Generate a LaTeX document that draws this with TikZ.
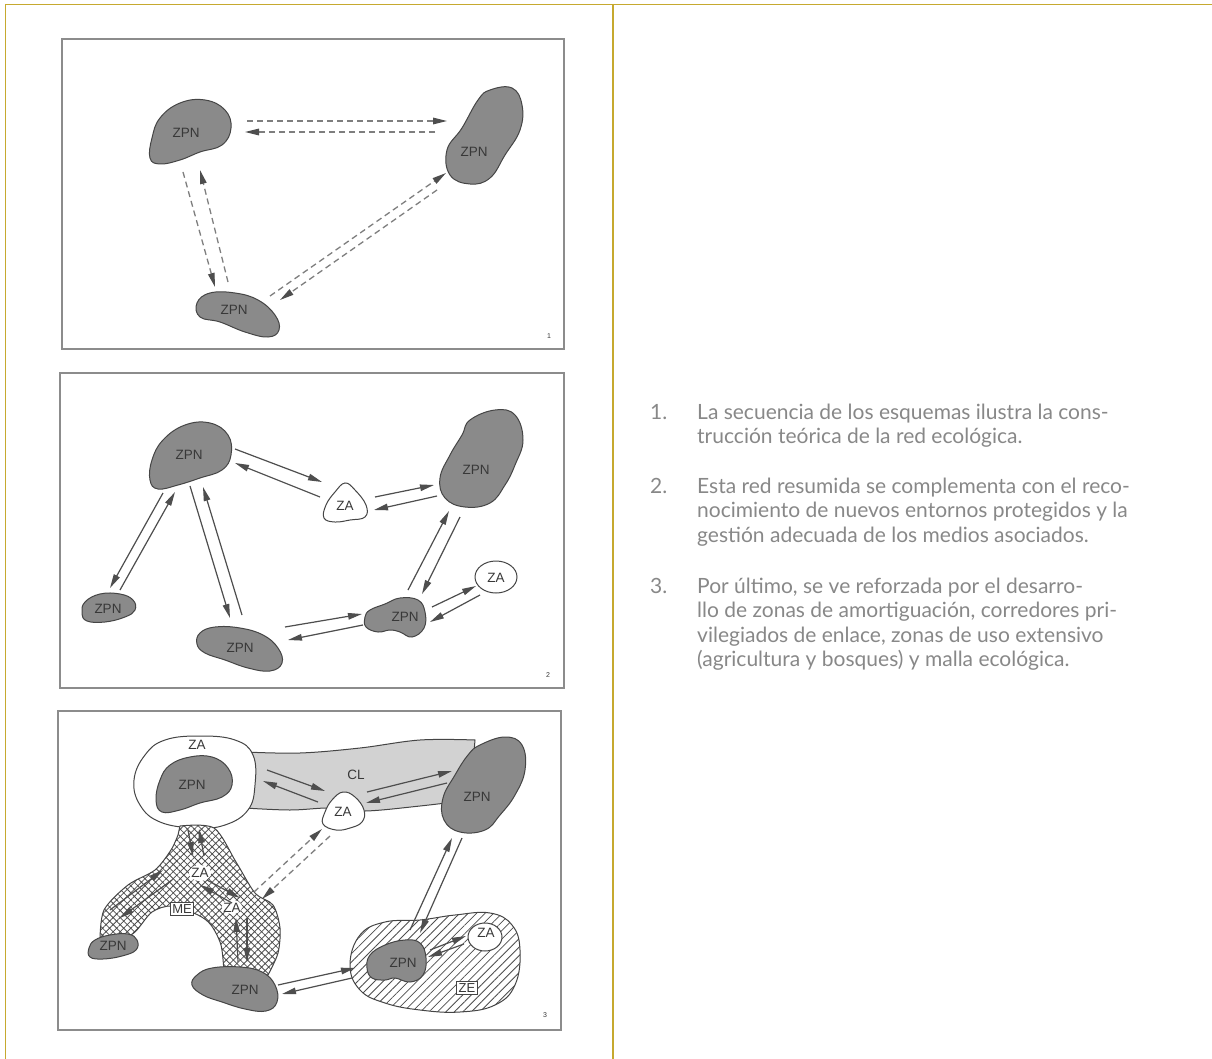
\documentclass[tikz,border=0pt]{standalone}
\usepackage{fontspec}
\setmainfont{Lato}
\newfontfamily\labelsans{Liberation Sans}
\usetikzlibrary{arrows.meta,patterns.meta}
\definecolor{gold}{HTML}{C6A92F}
\definecolor{blobfill}{HTML}{8A8A8A}
\definecolor{blobedge}{HTML}{454545}
\definecolor{inkgray}{HTML}{383838}
\definecolor{linegray}{HTML}{4E4E4E}
\definecolor{dashgray}{HTML}{7E7E7E}
\definecolor{framegray}{HTML}{8C8C8C}
\definecolor{corridor}{HTML}{D2D2D2}
\definecolor{captext}{HTML}{888888}
\tikzset{
  blob/.style={fill=blobfill, draw=blobedge, line width=1pt},
  whiteblob/.style={fill=white, draw=blobedge, line width=1pt},
  zlabel/.style={font=\labelsans\fontsize{13.5}{13.5}\selectfont, text=inkgray, inner sep=0pt},
  boxlabel/.style={font=\labelsans\fontsize{13}{13}\selectfont, text=inkgray, draw=blobedge, fill=white, line width=0.9pt, inner sep=2pt},
  panelframe/.style={draw=framegray, line width=2pt},
  panelno/.style={font=\labelsans\fontsize{7}{7}\selectfont, text=inkgray, inner sep=0pt},
  arr/.style={draw=linegray, line width=1.2pt, -{Triangle[length=14pt,width=6.5pt]}},
  darr/.style={draw=dashgray, line width=1.3pt, dash pattern=on 6pt off 4pt,
    -{Triangle[length=14pt,width=6.5pt,color=linegray]}},
  capline/.style={font=\fontsize{21}{21}\selectfont, text=captext, anchor=base west, inner sep=0pt},
}
\begin{document}
\begin{tikzpicture}[x=1pt,y=-1pt]
\useasboundingbox (0,0) rectangle (1212,1059);
\fill[white] (0,0) rectangle (1212,1059);

% page rules
\draw[gold, line width=1.8pt] (5,4.5) -- (1212,4.5);
\draw[gold, line width=1.2pt] (5.5,4) -- (5.5,1059);
\draw[gold, line width=1.2pt] (613,4) -- (613,1059);

% ---------------- scheme 1 ----------------
\draw[panelframe] (62,39) rectangle (564,349);
\draw[blob] plot[smooth cycle, tension=0.7] coordinates {(160,118) (180,103) (205,100) (225,110) (231,128) (222,145) (200,152) (180,160) (160,164) (150,158) (152,138)};
\draw[blob] plot[smooth cycle, tension=0.7] coordinates {(490,90) (512,88) (522,105) (520,130) (505,155) (490,178) (470,184) (450,175) (447,150) (462,128) (478,100)};
\draw[blob] plot[smooth cycle, tension=0.7] coordinates {(197,303) (210,293) (235,293) (258,300) (275,315) (279,330) (268,337) (245,332) (220,322) (200,317)};
\node[zlabel] (s1a) at (186,133) {ZPN};
\node[zlabel] (s1b) at (474,152) {ZPN};
\node[zlabel] (s1c) at (234,310) {ZPN};
\coordinate (h1s) at (247,121); \coordinate (h1e) at (447,121);
\coordinate (h2s) at (435,132); \coordinate (h2e) at (245,132);
\coordinate (v1s) at (183,172); \coordinate (v1e) at (215,287);
\coordinate (v2s) at (228,282); \coordinate (v2e) at (200,170);
\coordinate (d1s) at (270,296); \coordinate (d1e) at (446,173);
\coordinate (d2s) at (437,190); \coordinate (d2e) at (280,300);
\foreach \a in {h1,h2,v1,v2,d1,d2} \draw[darr] (\a s) -- (\a e);
\node[panelno] (n1) at (549,336) {1};

% ---------------- scheme 2 ----------------
\draw[panelframe] (60,373) rectangle (564,688);
\draw[blob] plot[smooth cycle, tension=0.7] coordinates {(163,440) (185,425) (210,423) (228,435) (231,455) (222,470) (200,478) (178,485) (158,489) (150,480) (152,460)};
\draw[blob] plot[smooth cycle, tension=0.7] coordinates {(470,420) (495,410) (515,415) (523,440) (515,465) (505,485) (490,503) (465,507) (445,498) (440,478) (450,455) (462,435)};
\draw[whiteblob] plot[smooth cycle, tension=0.7] coordinates {(335,492) (345,483) (355,490) (366,505) (365,517) (350,520) (335,522) (324,518) (326,505)};
\draw[blob] plot[smooth cycle, tension=0.7] coordinates {(85,602) (100,594) (120,594) (133,600) (135,610) (125,617) (105,622) (87,621) (82,613)};
\draw[blob] plot[smooth cycle, tension=0.7] coordinates {(200,633) (215,627) (240,628) (263,635) (278,648) (282,663) (270,671) (248,668) (225,660) (205,653) (197,644)};
\draw[blob] plot[smooth cycle, tension=0.7] coordinates {(370,610) (385,604) (400,598) (418,600) (425,612) (424,628) (412,637) (400,632) (390,630) (378,632) (366,627) (365,617)};
\draw[whiteblob] (496,577) ellipse[x radius=21, y radius=16];
\node[zlabel] (s2a) at (189,455) {ZPN};
\node[zlabel] (s2b) at (476,470) {ZPN};
\node[zlabel] (s2z) at (345,506) {ZA};
\node[zlabel] (s2c) at (108,609) {ZPN};
\node[zlabel] (s2d) at (240,648) {ZPN};
\node[zlabel] (s2e) at (405,617) {ZPN};
\node[zlabel] (s2y) at (496,578) {ZA};
\coordinate (a1s) at (235,449); \coordinate (a1e) at (322,482);
\coordinate (a2s) at (320,497); \coordinate (a2e) at (235,463);
\coordinate (b1s) at (375,497); \coordinate (b1e) at (434,485);
\coordinate (b2s) at (437,496); \coordinate (b2e) at (374,510);
\coordinate (c1s) at (163,493); \coordinate (c1e) at (110,588);
\coordinate (c2s) at (120,590); \coordinate (c2e) at (175,492);
\coordinate (e1s) at (190,486); \coordinate (e1e) at (230,618);
\coordinate (e2s) at (242,615); \coordinate (e2e) at (203,487);
\coordinate (f1s) at (408,590); \coordinate (f1e) at (449,511);
\coordinate (f2s) at (460,517); \coordinate (f2e) at (422,594);
\coordinate (g1s) at (285,627); \coordinate (g1e) at (362,614);
\coordinate (g2s) at (363,625); \coordinate (g2e) at (288,640);
\coordinate (k1s) at (432,607); \coordinate (k1e) at (476,586);
\coordinate (k2s) at (480,595); \coordinate (k2e) at (430,622);
\foreach \a in {a1,a2,b1,b2,c1,c2,e1,e2,f1,f2,g1,g2,k1,k2} \draw[arr] (\a s) -- (\a e);
\node[panelno] (n2) at (548,675) {2};

% ---------------- scheme 3 ----------------
\draw[panelframe] (58,711) rectangle (561,1030);
% linking corridor
\draw[fill=corridor, draw=blobedge, line width=1pt] plot[smooth, tension=0.6] coordinates {(245,752) (300,753) (360,748) (420,740) (475,740)} -- plot[smooth, tension=0.6] coordinates {(470,800) (420,806) (365,811) (330,808) (290,810) (245,808)} -- cycle;
% buffer zone round the core
\draw[whiteblob] plot[smooth cycle, tension=0.7] coordinates {(145,755) (165,740) (200,736) (235,740) (253,755) (255,785) (248,810) (225,825) (195,828) (160,822) (140,805) (134,780)};
% ecological mesh
\draw[draw=blobedge, line width=1pt, preaction={fill=white}, pattern={Hatch[angle=45,distance=5pt,line width=0.8pt]}, pattern color=linegray]
  plot[smooth, tension=0.5] coordinates {(180,826) (214,828) (236,862) (255,893) (273,905) (280,928) (278,953) (268,975)}
  -- plot[smooth, tension=0.5] coordinates {(224,972) (221,945) (211,925) (198,915) (172,906) (152,912) (135,932) (118,942)}
  -- plot[smooth, tension=0.5] coordinates {(100,940) (104,910) (128,885) (155,870) (171,850) (178,835)} -- cycle;
% extensive use zone
\draw[draw=blobedge, line width=1pt, preaction={fill=white}, pattern={Lines[angle=45,distance=6pt,line width=0.8pt]}, pattern color=linegray]
  plot[smooth cycle, tension=0.7] coordinates {(360,935) (385,922) (420,920) (455,915) (490,913) (512,925) (520,950) (515,985) (495,1005) (460,1012) (420,1010) (385,1003) (360,990) (350,965)};
\draw[blob] plot[smooth cycle, tension=0.7] coordinates {(170,765) (190,757) (212,757) (228,768) (232,785) (222,797) (200,803) (180,810) (162,812) (156,800) (160,780)};
\draw[blob] plot[smooth cycle, tension=0.7] coordinates {(480,745) (505,737) (522,745) (525,770) (515,795) (500,815) (485,830) (460,832) (444,820) (443,798) (455,775) (468,755)};
\draw[whiteblob] plot[smooth cycle, tension=0.7] coordinates {(332,800) (343,792) (355,797) (364,810) (362,822) (350,828) (336,830) (323,824) (325,812)};
\draw[blob] plot[smooth cycle, tension=0.7] coordinates {(95,940) (110,935) (128,934) (137,940) (136,950) (122,956) (103,959) (90,957) (89,948)};
\draw[blob] plot[smooth cycle, tension=0.7] coordinates {(197,975) (212,968) (240,967) (262,972) (275,985) (277,1002) (266,1011) (245,1009) (222,1002) (203,995) (192,985)};
\draw[blob] plot[smooth cycle, tension=0.7] coordinates {(370,955) (385,945) (405,940) (420,943) (426,958) (423,975) (410,982) (395,978) (385,980) (372,978) (367,968)};
\draw[whiteblob] (485,937) ellipse[x radius=17, y radius=14];
\fill[white] (200,873) ellipse[x radius=11, y radius=8];
\fill[white] (232,907) ellipse[x radius=10, y radius=7];
\node[zlabel] (s3za) at (197,745) {ZA};
\node[zlabel] (s3a) at (192,785) {ZPN};
\node[zlabel] (s3cl) at (356,775) {CL};
\node[zlabel] (s3b) at (477,797) {ZPN};
\node[zlabel] (s3z) at (343,812) {ZA};
\node[zlabel] (s3m) at (200,873) {ZA};
\node[boxlabel] (s3me) at (182,909) {ME};
\node[zlabel] (s3m2) at (232,908) {ZA};
\node[zlabel] (s3c) at (113,946) {ZPN};
\node[zlabel] (s3d) at (245,990) {ZPN};
\node[zlabel] (s3e) at (403,963) {ZPN};
\node[zlabel] (s3y) at (486,933) {ZA};
\node[boxlabel] (s3ze) at (467,988) {ZE};
\coordinate (m1s) at (267,770); \coordinate (m1e) at (325,791);
\coordinate (m2s) at (318,802); \coordinate (m2e) at (263,781);
\coordinate (p1s) at (367,792); \coordinate (p1e) at (452,771);
\coordinate (p2s) at (447,783); \coordinate (p2e) at (366,803);
\coordinate (q1s) at (462,838); \coordinate (q1e) at (420,933);
\coordinate (q2s) at (410,930); \coordinate (q2e) at (452,838);
\coordinate (r1s) at (278,985); \coordinate (r1e) at (355,968);
\coordinate (r2s) at (352,978); \coordinate (r2e) at (282,994);
\coordinate (u1s) at (430,950); \coordinate (u1e) at (466,936);
\coordinate (u2s) at (464,944); \coordinate (u2e) at (428,957);
\coordinate (t1s) at (188,830); \coordinate (t1e) at (193,856);
\coordinate (t2s) at (204,856); \coordinate (t2e) at (199,829);
\coordinate (w1s) at (172,880); \coordinate (w1e) at (120,918);
\coordinate (w2s) at (110,910); \coordinate (w2e) at (163,870);
\coordinate (x1s) at (207,880); \coordinate (x1e) at (240,898);
\coordinate (x2s) at (232,903); \coordinate (x2e) at (200,885);
\coordinate (y1s) at (247,918); \coordinate (y1e) at (247,962);
\coordinate (y2s) at (238,962); \coordinate (y2e) at (236,918);
\foreach \a in {m1,m2,p1,p2,q1,q2,r1,r2,u1,u2,t1,t2,w1,w2,x1,x2,y1,y2} \draw[arr] (\a s) -- (\a e);
\coordinate (o1s) at (330,836); \coordinate (o1e) at (262,899);
\coordinate (o2s) at (254,892); \coordinate (o2e) at (322,829);
\draw[darr] (o1s) -- (o1e);
\draw[darr] (o2s) -- (o2e);
\node[panelno] (n3) at (545,1015) {3};

% ---------------- captions ----------------
\node[capline] (c1n) at (650,419) {1.};
\node[capline] (c1a) at (697,419) {La secuencia de los esquemas ilustra la cons-};
\node[capline] (c1b) at (697,443.5) {trucción teórica de la red ecológica.};
\node[capline] (c2n) at (650,493) {2.};
\node[capline] (c2a) at (697,493) {Esta red resumida se complementa con el reco-};
\node[capline] (c2b) at (697,517.5) {nocimiento de nuevos entornos protegidos y la};
\node[capline] (c2c) at (697,542) {gestión adecuada de los medios asociados.};
\node[capline] (c3n) at (650,593) {3.};
\node[capline] (c3a) at (697,593) {Por último, se ve reforzada por el desarro-};
\node[capline] (c3b) at (697,617.5) {llo de zonas de amortiguación, corredores pri-};
\node[capline] (c3c) at (697,642) {vilegiados de enlace, zonas de uso extensivo};
\node[capline] (c3d) at (697,666.5) {(agricultura y bosques) y malla ecológica.};
\end{tikzpicture}
\end{document}
